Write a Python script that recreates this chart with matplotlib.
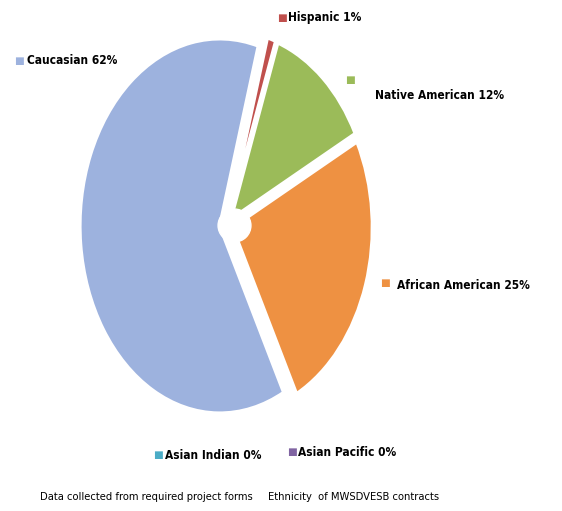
import matplotlib.pyplot as plt

# data
groups = ['Hispanic', 'Native American', 'African American', 'Asian Indian', 'Asian Pacific', 'Caucasian']
pct = [1, 12, 25, 0, 0, 62]
colors = ['#C0504D', '#9BBB59', '#EE9142', '#4BACC6', '#8064A2', '#9DB2DE']

# label positions (pixels in the 562x511 picture): square, text
square_pos = {
    'Hispanic': (277, 18),
    'Native American': (345, 80),
    'African American': (380, 283),
    'Asian Indian': (153, 455),
    'Asian Pacific': (287, 452),
    'Caucasian': (14, 61),
}
text_pos = {
    'Hispanic': (288, 18),
    'Native American': (375, 95),
    'African American': (397, 285),
    'Asian Indian': (165, 455),
    'Asian Pacific': (298, 452),
    'Caucasian': (27, 61),
}

W, H = 562, 511
fig = plt.figure(figsize=(W / 100, H / 100), dpi=100)
cx, cy, a, b = 227, 225, 145, 194
ax = fig.add_axes([(cx - a) / W, (H - cy - b) / H, 2 * a / W, 2 * b / H])

ax.pie(pct, colors=colors, startangle=74, counterclock=False,
       explode=[0.04, 0.04, 0.04, 0, 0, 0.05], radius=0.965,
       wedgeprops=dict(edgecolor='white', linewidth=2.5))
ax.set_aspect('auto')
ax.set_xlim(-1, 1)
ax.set_ylim(-1, 1)
# white hole in the middle
ax.scatter([0.05], [0.0], s=560, color='white', zorder=5)

fam = ['DejaVu Sans']
for g, p, c in zip(groups, pct, colors):
    sx, sy = square_pos[g]
    tx, ty = text_pos[g]
    fig.text(sx / W, 1 - sy / H, '■', color=c, fontsize=7.5, va='center', ha='left', family='DejaVu Sans')
    fig.text(tx / W, 1 - ty / H, f'{g} {p}%', fontsize=8.6, fontweight='bold',
             fontstretch='condensed', va='center', ha='left', family=fam)

fig.text(40 / W, 1 - 497 / H, 'Data collected from required project forms', fontsize=8,
         fontstretch='condensed', va='center', ha='left', family=fam)
fig.text(268 / W, 1 - 497 / H, 'Ethnicity  of MWSDVESB contracts', fontsize=8,
         fontstretch='condensed', va='center', ha='left', family=fam)

fig.savefig('out.png', dpi=100)
